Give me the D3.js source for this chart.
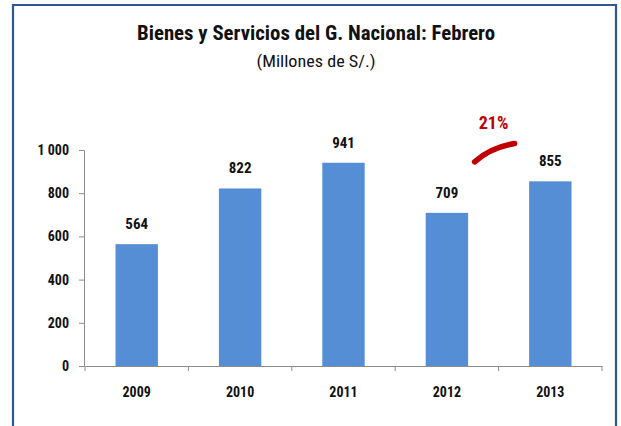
<!DOCTYPE html>
<html><head><meta charset="utf-8">
<script src="https://cdn.jsdelivr.net/npm/d3@7"></script>
<style>body{margin:0;background:#fff}svg{display:block}</style>
</head><body>
<script>
const categories = ["2009","2010","2011","2012","2013"];
const values = [564, 822, 941, 709, 855];
const yTicks = [0, 200, 400, 600, 800, 1000];
const title = "Bienes y Servicios del G. Nacional: Febrero";
const subtitle = "(Millones de S/.)";
const growthLabel = "21%";

const W = 621, H = 426;
const font = "'Liberation Sans Narrow','Roboto Condensed','Liberation Sans',Arial,sans-serif";
const svg = d3.select("body").append("svg").attr("width", W).attr("height", H);

// frame
svg.append("path").attr("d", `M13,${H+5} L13,5 L616,5 L616,${H+5}`)
  .attr("fill","none").attr("stroke","#2f5597").attr("stroke-width",2.2);

svg.append("text").attr("x",316).attr("y",40).attr("text-anchor","middle")
  .attr("font-family",font).attr("font-weight","bold").attr("font-size",21)
  .attr("textLength",358).attr("lengthAdjust","spacingAndGlyphs").attr("fill","#111").text(title);
svg.append("text").attr("x",316).attr("y",67).attr("text-anchor","middle")
  .attr("font-family",font).attr("font-size",17)
  .attr("textLength",119).attr("lengthAdjust","spacingAndGlyphs").attr("fill","#111").text(subtitle);

const x = d3.scaleBand().domain(categories).range([85, 602]).paddingInner(0.59).paddingOuter(0.295);
const xOuter = d3.scaleBand().domain(categories).range([85, 602]);
const y = d3.scaleLinear().domain([0, 1000]).range([366, 150]);

// y axis
const yAxis = svg.append("g").attr("transform","translate(84,0)")
  .call(d3.axisLeft(y).tickValues(yTicks).tickSize(5).tickPadding(10)
    .tickFormat(d => d3.format(",")(d).replace(",", " ")));
yAxis.select(".domain").attr("stroke","#8c8c8c");
yAxis.selectAll(".tick line").attr("stroke","#8c8c8c");
yAxis.selectAll("text").attr("font-family",font).attr("font-weight","bold").attr("font-size",14).attr("fill","#111");

// bars
svg.selectAll("rect.bar").data(values).join("rect").attr("class","bar")
  .attr("x",(d,i)=>x(categories[i])).attr("width",x.bandwidth())
  .attr("y",d=>y(d)).attr("height",d=>y(0)-y(d)).attr("fill","#558ed5");

// x axis
const xAxis = svg.append("g").attr("transform",`translate(0,${y(0)})`)
  .call(d3.axisBottom(xOuter).tickSize(0).tickPadding(21));
xAxis.select(".domain").attr("stroke","#8c8c8c");
xAxis.selectAll("text").attr("font-family",font).attr("font-weight","bold").attr("font-size",14).attr("fill","#111");
const bounds = categories.map(c=>xOuter(c)).concat([xOuter(categories[categories.length-1])+xOuter.bandwidth()]);
svg.append("g").selectAll("line").data(bounds).join("line")
  .attr("x1",d=>d).attr("x2",d=>d).attr("y1",y(0)).attr("y2",y(0)+5).attr("stroke","#8c8c8c");

// value labels
svg.selectAll("text.val").data(values).join("text").attr("class","val")
  .attr("x",(d,i)=>x(categories[i])+x.bandwidth()/2).attr("y",d=>y(d)-15)
  .attr("text-anchor","middle").attr("font-family",font).attr("font-weight","bold")
  .attr("font-size",15).attr("fill","#111").text(d=>d);

// growth annotation between 2012 and 2013
const gx = xOuter(categories[4]);
svg.append("path")
  .attr("d",`M${gx-24},${y(945)} Q${gx-8},${y(1012)} ${gx+16},${y(1030)}`)
  .attr("fill","none").attr("stroke","#c00000").attr("stroke-width",5.5).attr("stroke-linecap","round");
svg.append("text").attr("x",gx-5).attr("y",y(1095)).attr("text-anchor","middle")
  .attr("font-family",font).attr("font-weight","bold").attr("font-size",18).attr("fill","#c00000").text(growthLabel);
</script>
</body></html>
